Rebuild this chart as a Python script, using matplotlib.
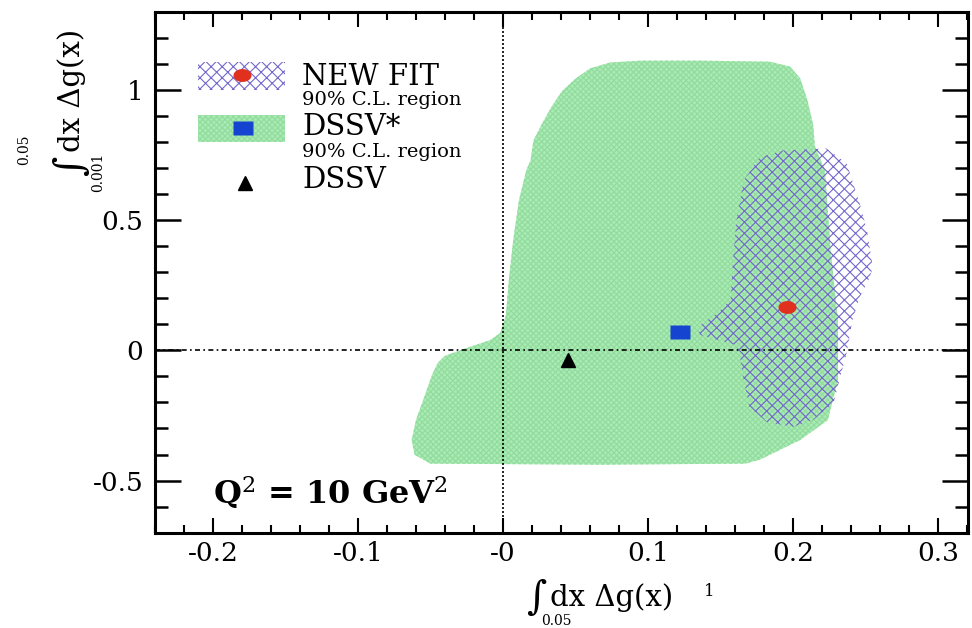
import numpy as np
import matplotlib.pyplot as plt
from matplotlib.patches import Rectangle
from matplotlib.ticker import MultipleLocator

plt.rcParams['font.family'] = ['DejaVu Serif']
plt.rcParams['mathtext.fontset'] = 'dejavuserif'
plt.rcParams['axes.unicode_minus'] = False
plt.rcParams['hatch.linewidth'] = 0.8

# DSSV* 90% C.L. region, outline
dssv_star_x = [0.019, 0.021, 0.027, 0.034, 0.041, 0.050, 0.060, 0.074, 0.095, 0.136,
               0.184, 0.198, 0.205, 0.210, 0.214, 0.215, 0.222, 0.226, 0.231, 0.231,
               0.224, 0.205, 0.177, 0.167, 0.067, -0.050, -0.061, -0.063, -0.060, -0.055,
               -0.049, -0.045, -0.040, -0.025, -0.009, -0.002, 0.002, 0.004, 0.007, 0.011,
               0.016]
dssv_star_y = [0.729, 0.806, 0.871, 0.940, 0.997, 1.043, 1.082, 1.105, 1.112, 1.112,
               1.108, 1.089, 1.043, 0.959, 0.863, 0.786, 0.691, 0.384, 0.116, -0.114,
               -0.268, -0.344, -0.420, -0.435, -0.439, -0.435, -0.401, -0.344, -0.267, -0.190,
               -0.095, -0.048, -0.021, 0.009, 0.039, 0.066, 0.135, 0.269, 0.422, 0.576,
               0.691]

# NEW FIT 90% C.L. region
newfit_x = [0.193, 0.223, 0.237, 0.246, 0.251, 0.255, 0.253, 0.246, 0.241, 0.237,
            0.232, 0.228, 0.214, 0.200, 0.182, 0.170, 0.166, 0.163, 0.161, 0.136,
            0.134, 0.148, 0.157, 0.159, 0.161, 0.166, 0.177]
newfit_y = [0.767, 0.775, 0.718, 0.564, 0.461, 0.319, 0.281, 0.204, 0.116, -0.010,
            -0.114, -0.202, -0.267, -0.294, -0.275, -0.218, -0.114, -0.010, 0.020, 0.059,
            0.089, 0.143, 0.193, 0.373, 0.499, 0.652, 0.740]

# best-fit points (x, y)
newfit_point = (0.196, 0.166)
dssv_star_point = (0.122, 0.070)
dssv_point = (0.045, -0.037)

xticks = [-0.2, -0.1, 0, 0.1, 0.2, 0.3]
xtick_labels = ['-0.2', '-0.1', '-0', '0.1', '0.2', '0.3']
yticks = [-0.5, 0, 0.5, 1]
ytick_labels = ['-0.5', '0', '0.5', '1']

green = '#a9ecb3'
green_hatch = '#92da9e'
blue_hatch = '#7468cc'
red = '#e2301e'
blue = '#1444d0'

# marker shapes
t = np.linspace(0, 2 * np.pi, 40)
ellipse_marker = list(zip(1.4 * np.cos(t), np.sin(t)))
rect_marker = [(-1.5, -1), (1.5, -1), (1.5, 1), (-1.5, 1), (-1.5, -1)]

fig = plt.figure(figsize=(9.72, 6.28), dpi=100)
ax = fig.add_axes([0.1595, 0.1518, 0.8364, 0.8296])

ax.fill(dssv_star_x, dssv_star_y, facecolor=green, edgecolor=green_hatch,
        hatch='xxxxxx', lw=0, zorder=1)
ax.fill(newfit_x, newfit_y, facecolor='none', edgecolor=blue_hatch,
        hatch='xxx', lw=0, zorder=2)

ax.axvline(0, color='k', ls=(0, (1.2, 1.2)), lw=1.2, zorder=3)
ax.axhline(0, color='k', ls=(0, (3, 2, 1, 2)), lw=1.2, zorder=3)

ax.plot(*newfit_point, ls='none', marker=ellipse_marker, ms=13, color=red, mec='none', zorder=4)
ax.plot(*dssv_star_point, ls='none', marker=rect_marker, ms=15, color=blue, mec='none', zorder=4)
ax.plot(*dssv_point, ls='none', marker='^', ms=10, color='k', zorder=4)

ax.set_xlim(-0.24, 0.3207)
ax.set_ylim(-0.7, 1.3)
ax.set_xticks(xticks, xtick_labels)
ax.set_yticks(yticks, ytick_labels)
ax.xaxis.set_minor_locator(MultipleLocator(0.02))
ax.yaxis.set_minor_locator(MultipleLocator(0.1))
ax.tick_params(which='both', direction='in', top=True, right=True)
ax.tick_params(axis='x', which='major', length=11, width=1.5, labelsize=19, pad=6)
ax.tick_params(axis='x', which='minor', length=6, width=1.5)
ax.tick_params(axis='y', which='major', length=19, width=1.8, labelsize=19, pad=8.5)
ax.tick_params(axis='y', which='minor', length=9.5, width=1.8)
for s in ax.spines.values():
    s.set_linewidth(2.2)

# legend drawn by hand
ax.add_patch(Rectangle((0.053, 0.849), 0.107, 0.054, transform=ax.transAxes,
                       facecolor='none', edgecolor=blue_hatch, hatch='xxx', lw=0, zorder=5))
ax.add_patch(Rectangle((0.053, 0.750), 0.107, 0.051, transform=ax.transAxes,
                       facecolor=green, edgecolor=green_hatch, hatch='xxxxxx', lw=0, zorder=5))
ax.plot(0.107, 0.878, transform=ax.transAxes, marker=ellipse_marker, ms=13,
        color=red, mec='none', zorder=6)
ax.plot(0.108, 0.776, transform=ax.transAxes, marker=rect_marker, ms=15,
        color=blue, mec='none', zorder=6)
ax.plot(0.111, 0.671, transform=ax.transAxes, marker='^', ms=10, color='k', zorder=6)

ax.text(0.181, 0.875, 'NEW FIT', transform=ax.transAxes, fontsize=21, va='center')
ax.text(0.181, 0.830, '90% C.L. region', transform=ax.transAxes, fontsize=14, va='center')
ax.text(0.181, 0.778, 'DSSV*', transform=ax.transAxes, fontsize=21, va='center')
ax.text(0.181, 0.731, '90% C.L. region', transform=ax.transAxes, fontsize=14, va='center')
ax.text(0.181, 0.677, 'DSSV', transform=ax.transAxes, fontsize=21, va='center')

ax.text(0.071, 0.078, 'Q$^2$ = 10 GeV$^2$', transform=ax.transAxes, fontsize=23,
        fontweight='bold', va='center')

# axis titles (integral notation)
fig.text(536 / 972, 1 - 598 / 628, '∫', fontsize=28, ha='center', va='center')
fig.text(550 / 972, 1 - 598 / 628, 'dx Δg(x)', fontsize=21, ha='left', va='center')
fig.text(556 / 972, 1 - 621 / 628, '0.05', fontsize=10, ha='center', va='center')
fig.text(709 / 972, 1 - 592 / 628, '1', fontsize=12, ha='center', va='center')

fig.text(72 / 972, 1 - 166 / 628, '∫', fontsize=28, rotation=90, ha='center', va='center')
fig.text(72 / 972, 1 - 152 / 628, 'dx Δg(x)', fontsize=21, rotation=90, ha='center', va='bottom')
fig.text(24 / 972, 1 - 150 / 628, '0.05', fontsize=10, rotation=90, ha='center', va='center')
fig.text(98 / 972, 1 - 172 / 628, '0.001', fontsize=10, rotation=90, ha='center', va='center')

fig.savefig('out.png', dpi=100)
